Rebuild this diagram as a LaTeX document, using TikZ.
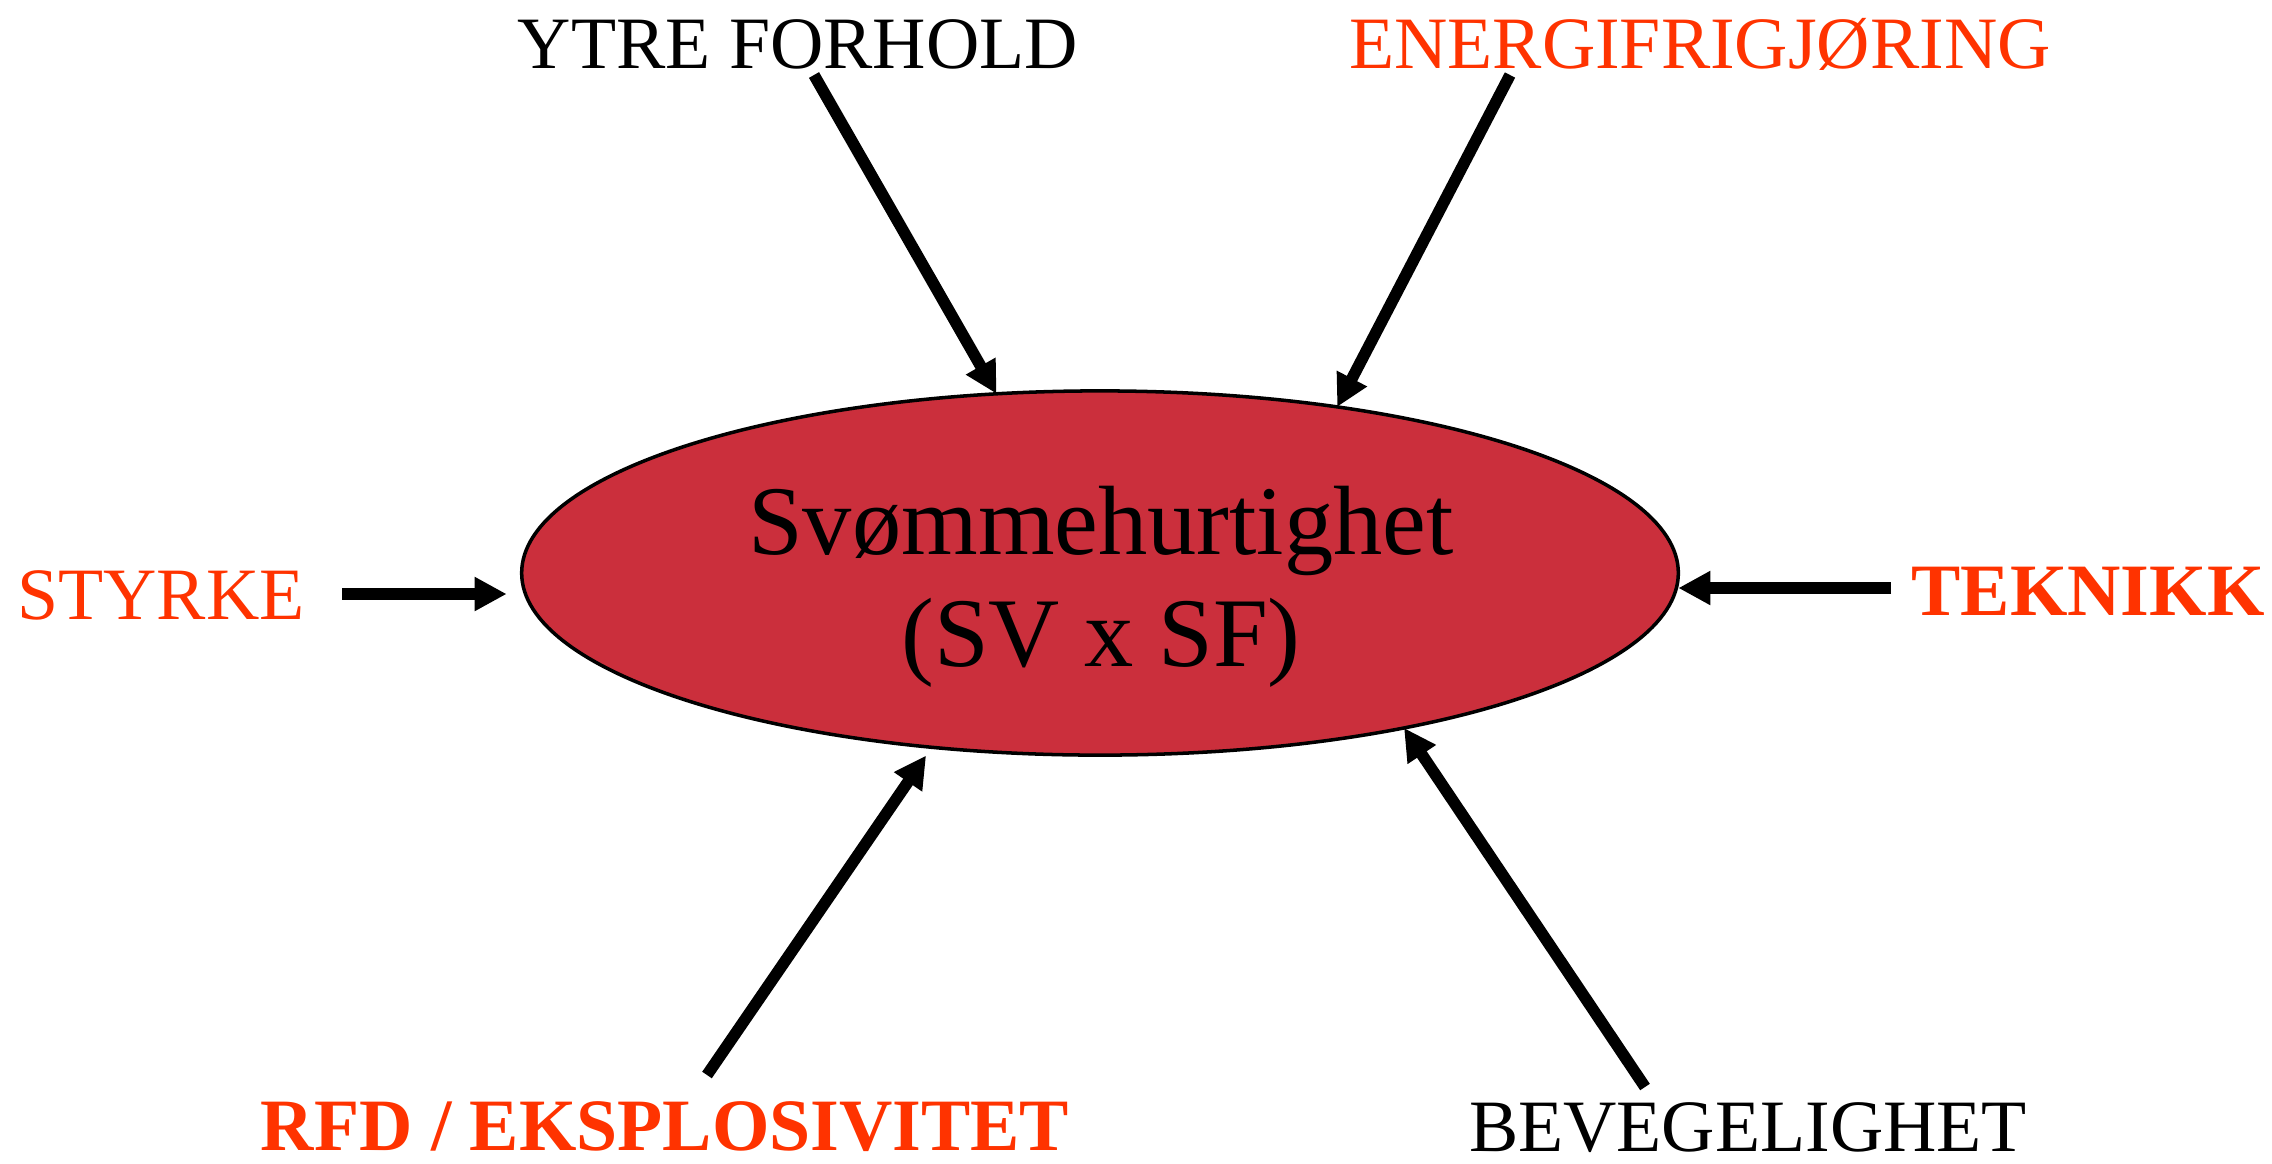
\documentclass[tikz,border=0pt]{standalone}
\usepackage{fontspec}
\setmainfont{Liberation Serif}
\usepackage{tikz}
\usetikzlibrary{arrows.meta}
\usetikzlibrary{positioning}
\usetikzlibrary{shapes.geometric}

\definecolor{oransjerod}{RGB}{255,51,0}
\definecolor{ovalrod}{RGB}{203,47,60}

\begin{document}
\begin{tikzpicture}[x=0.01cm,y=-0.01cm,
    faktor/.style={anchor=base,inner sep=0pt,font=\fontsize{21}{25}\selectfont},
    pil/.style={line width=3.3pt,-{Triangle[length=0.32cm,width=0.32cm]}}]
      \useasboundingbox (0,0) rectangle (2272,1163);
      % midten
      \node[ellipse,draw,line width=1pt,fill=ovalrod,minimum width=11.56cm,
        minimum height=3.64cm,inner sep=0pt,outer sep=0pt] (svom) at (1100,573) {};
      \node[align=center,font=\fontsize{28}{32}\selectfont] (svomtekst) at (1101,587)
        {Svømmehurtighet\\(SV x SF)};
      % faktorene rundt
      \node[faktor] (ytre) at (798,68) {YTRE FORHOLD};
      \node[faktor,text=oransjerod] (energi) at (1700,68) {ENERGIFRIGJØRING};
      \node[faktor,text=oransjerod] (styrke) at (161,619) {STYRKE};
      \node[faktor,text=oransjerod,font=\fontsize{21}{25}\selectfont\bfseries] (teknikk) at (2088,615) {TEKNIKK};
      \node[faktor,text=oransjerod,font=\fontsize{21}{25}\selectfont\bfseries] (rfd) at (665,1150) {RFD / EKSPLOSIVITET};
      \node[faktor] (beveg) at (1748,1151) {BEVEGELIGHET};
      % startpunkt for pilene
      \coordinate (ytrefra) at (814,75);
      \coordinate (energifra) at (1510,75);
      \coordinate (styrkefra) at (342,594);
      \coordinate (teknikkfra) at (1891,588);
      \coordinate (rfdfra) at (707,1075);
      \coordinate (bevegfra) at (1645,1087);
      \draw[pil] (ytrefra) -- (svom.120);
      \draw[pil] (energifra) -- (svom.35.5);
      \draw[pil,shorten >=0.15cm] (styrkefra) -- (styrkefra -| svom.west);
      \draw[pil] (teknikkfra) -- (teknikkfra -| svom.east);
      \draw[pil,shorten >=0.1cm] (rfdfra) -- (svom.226);
      \draw[pil] (bevegfra) -- (svom.-27.1);
    \end{tikzpicture}
\end{document}
